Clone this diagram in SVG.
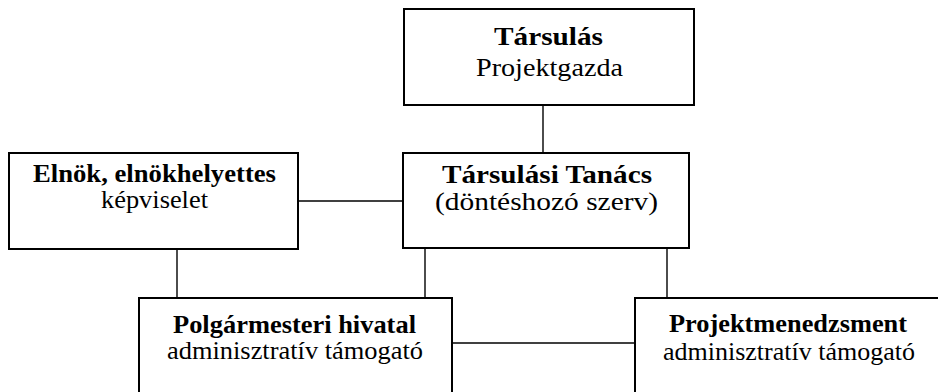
<svg xmlns="http://www.w3.org/2000/svg" width="938" height="392" viewBox="0 0 938 392">
<style>
.box{fill:#fff;stroke:#000;stroke-width:2}
.con{stroke:#000;stroke-width:1.4;fill:none}
.t{font-family:"Liberation Serif","Times New Roman",serif;font-size:25px;fill:#000;text-anchor:middle}
.b{font-weight:bold}
</style>
<rect width="938" height="392" fill="#fff"/>
<g id="connectors">
<line class="con" x1="543" y1="105" x2="543" y2="153"/>
<line class="con" x1="298" y1="201" x2="403" y2="201"/>
<line class="con" x1="177" y1="249" x2="177" y2="298"/>
<line class="con" x1="425" y1="248" x2="425" y2="298"/>
<line class="con" x1="667" y1="248" x2="667" y2="298"/>
<line class="con" x1="452" y1="343" x2="635" y2="343"/>
</g>
<g id="tarsulas">
<rect class="box" x="404" y="9" width="290" height="96"/>
<text class="t b" x="548.5" y="45" textLength="109" lengthAdjust="spacingAndGlyphs">Társulás</text>
<text class="t" x="549.5" y="76" textLength="147" lengthAdjust="spacingAndGlyphs">Projektgazda</text>
</g>
<g id="elnok">
<rect class="box" x="9" y="153" width="289" height="96"/>
<text class="t b" x="154.5" y="182" textLength="243" lengthAdjust="spacingAndGlyphs">Elnök, elnökhelyettes</text>
<text class="t" x="154.5" y="208" textLength="107" lengthAdjust="spacingAndGlyphs">képviselet</text>
</g>
<g id="tanacs">
<rect class="box" x="403" y="153" width="286" height="95"/>
<text class="t b" x="547" y="183" textLength="210" lengthAdjust="spacingAndGlyphs">Társulási Tanács</text>
<text class="t" x="546.5" y="210" textLength="223" lengthAdjust="spacingAndGlyphs">(döntéshozó szerv)</text>
</g>
<g id="polgarmesteri">
<rect class="box" x="139" y="298" width="313" height="110"/>
<text class="t b" x="294.5" y="333" textLength="243" lengthAdjust="spacingAndGlyphs">Polgármesteri hivatal</text>
<text class="t" x="295" y="359" textLength="256" lengthAdjust="spacingAndGlyphs">adminisztratív támogató</text>
</g>
<g id="projektmenedzsment">
<rect class="box" x="635" y="298" width="307" height="110"/>
<text class="t b" x="788" y="332" textLength="238" lengthAdjust="spacingAndGlyphs">Projektmenedzsment</text>
<text class="t" x="789" y="360" textLength="252" lengthAdjust="spacingAndGlyphs">adminisztratív támogató</text>
</g>
</svg>
